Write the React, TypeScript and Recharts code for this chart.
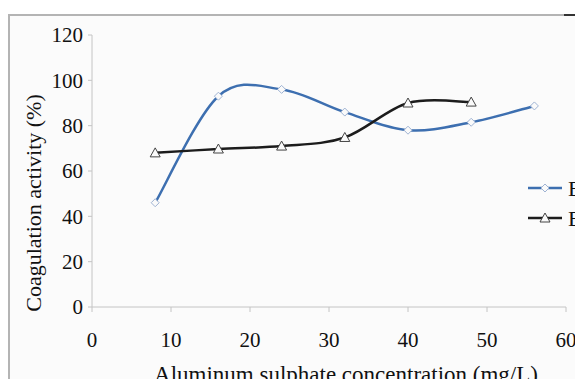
import { LineChart, Line, XAxis, YAxis } from 'recharts';

const concentration = [8, 16, 24, 32, 40, 48, 56];
const e1Values = [46, 93, 96, 86, 78, 81.5, 88.7];
const e2Values = [68, 69.7, 71, 74.8, 90, 90.4, null];
const xTicks = [0, 10, 20, 30, 40, 50, 60];
const yTicks = [0, 20, 40, 60, 80, 100, 120];

const data = concentration.map((c, i) => ({ c, e1: e1Values[i], e2: e2Values[i] }));

const FONT = '"Liberation Serif", "Times New Roman", serif';
const BLUE = '#3d6fb0';
const DARK = '#1c1c1c';
const AXIS = '#c4c4c4';

// Excel-like smoothing (Catmull-Rom through every point)
function smoothCurve(context: any) {
    let pts: number[][] = [];
    return {
        areaStart() {},
        areaEnd() {},
        lineStart() { pts = []; },
        point(x: number, y: number) { pts.push([+x, +y]); },
        lineEnd() {
            if (!pts.length) return;
            context.moveTo(pts[0][0], pts[0][1]);
            for (let i = 0; i < pts.length - 1; i++) {
                const p0 = pts[i - 1] || pts[i];
                const p1 = pts[i];
                const p2 = pts[i + 1];
                const p3 = pts[i + 2] || p2;
                context.bezierCurveTo(
                    p1[0] + (p2[0] - p0[0]) / 6, p1[1] + (p2[1] - p0[1]) / 6,
                    p2[0] - (p3[0] - p1[0]) / 6, p2[1] - (p3[1] - p1[1]) / 6,
                    p2[0], p2[1]
                );
            }
        },
    };
}

const Diamond = ({ cx, cy }: any) => {
    if (cx == null || cy == null) return null;
    const r = 4;
    return (
        <path
            d={`M${cx},${cy - r}L${cx + r},${cy}L${cx},${cy + r}L${cx - r},${cy}Z`}
            fill="#fafafa"
            stroke="#9fb3d3"
            strokeWidth={1}
        />
    );
};

const Triangle = ({ cx, cy }: any) => {
    if (cx == null || cy == null) return null;
    return (
        <path
            d={`M${cx},${cy - 5}L${cx + 5},${cy + 4}L${cx - 5},${cy + 4}Z`}
            fill="#fafafa"
            stroke="#444"
            strokeWidth={1}
        />
    );
};

// legend sits over the right edge of the plot, as in the original
const LegendBox = () => (
    <svg width={80} height={60} style={{ position: 'absolute', left: 512, top: 164, overflow: 'visible' }}>
        <line x1={8} y1={10} x2={42} y2={10} stroke={BLUE} strokeWidth={2.5} />
        <Diamond cx={25} cy={10} />
        <text x={48} y={10} dominantBaseline="central" fontSize={22} fontFamily={FONT} fill="#111">
            E<tspan fontSize={14} dy={6}>1</tspan>
        </text>
        <line x1={8} y1={40} x2={42} y2={40} stroke={DARK} strokeWidth={2.5} />
        <Triangle cx={25} cy={40} />
        <text x={48} y={40} dominantBaseline="central" fontSize={22} fontFamily={FONT} fill="#111">
            E<tspan fontSize={14} dy={6}>2</tspan>
        </text>
    </svg>
);

export default function App() {
    return (
        <div style={{ position: 'relative', top: 6, width: 575, height: 371, overflow: 'hidden', fontFamily: FONT }}>
            <div
                style={{
                    position: 'absolute', left: 0, top: 0, width: 575, height: 371,
                    background: '#fbfbfb', borderTop: '2px solid #b4b4b4', borderLeft: '2px solid #b4b4b4',
                    boxSizing: 'border-box',
                }}
            />
            <div style={{ position: 'absolute', left: 556, top: 0, width: 30, height: 2, background: '#333' }} />
            <div style={{ position: 'absolute', left: 0, top: 0 }}>
                <LineChart width={575} height={371} data={data} margin={{ top: 21, right: 17, bottom: 0, left: 0 }} style={{ fontFamily: FONT }}>
                    <XAxis
                        dataKey="c"
                        type="number"
                        domain={[0, 60]}
                        ticks={xTicks}
                        height={78}
                        stroke={AXIS}
                        tickSize={5}
                        tickMargin={20}
                        tick={{ fill: '#111', fontSize: 21, fontFamily: FONT }}
                        label={() => (
                            <text x={338} y={360} textAnchor="middle" dominantBaseline="central" fontSize={23} fontFamily={FONT} fill="#111">
                                Aluminum sulphate concentration (mg/L)
                            </text>
                        )}
                    />
                    <YAxis
                        domain={[0, 120]}
                        ticks={yTicks}
                        width={84}
                        stroke={AXIS}
                        tickSize={4}
                        tickMargin={5}
                        tick={{ fill: '#111', fontSize: 21, fontFamily: FONT }}
                        label={() => (
                            <text x={25} y={189} transform="rotate(-90 25 189)" textAnchor="middle" dominantBaseline="central" fontSize={22} fontFamily={FONT} fill="#111">
                                Coagulation activity (%)
                            </text>
                        )}
                    />
                    <Line
                        dataKey="e1"
                        type={smoothCurve as any}
                        stroke={BLUE}
                        strokeWidth={2.5}
                        dot={<Diamond />}
                        activeDot={false}
                        isAnimationActive={false}
                    />
                    <Line
                        dataKey="e2"
                        type={smoothCurve as any}
                        stroke={DARK}
                        strokeWidth={2.5}
                        dot={<Triangle />}
                        activeDot={false}
                        isAnimationActive={false}
                    />
                </LineChart>
            </div>
            <LegendBox />
        </div>
    );
}
